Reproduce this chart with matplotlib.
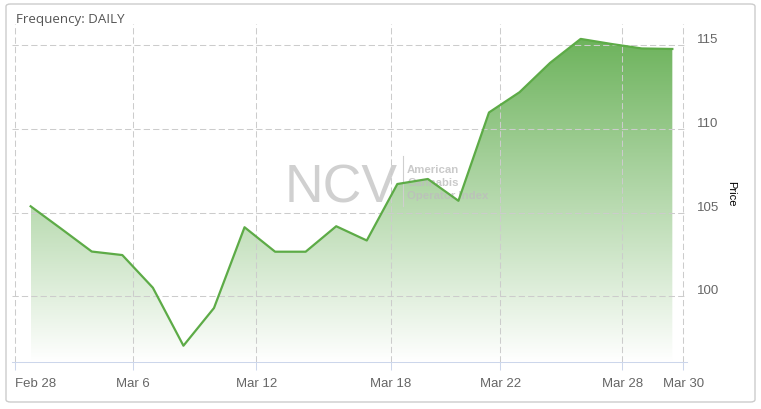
import numpy as np
import matplotlib
matplotlib.use('Agg')
import matplotlib.pyplot as plt
from matplotlib.patches import FancyBboxPatch
from matplotlib.colors import LinearSegmentedColormap
import matplotlib.transforms as mtransforms

# daily index values, one per trading day (evenly spaced on an ordinal axis)
price = [105.37, 104.03, 102.67, 102.46, 100.51, 97.05, 99.30, 104.12, 102.66,
         102.66, 104.18, 103.33, 106.70, 107.00, 105.70, 110.97, 112.18, 113.93,
         115.36, 115.06, 114.79, 114.76]

# date labels and where they sit on the ordinal axis
tick_labels = ['Feb 28', 'Mar 6', 'Mar 12', 'Mar 18', 'Mar 22', 'Mar 28', 'Mar 30']
tick_pos = [-0.50, 3.36, 7.38, 11.78, 15.37, 19.36, 21.36]

y_ticks = [100, 105, 110, 115]

W, H = 761, 410
fig = plt.figure(figsize=(W / 100, H / 100), dpi=100)
ax = fig.add_axes([11.7 / W, 1 - 363.3 / H, (687 - 11.7) / W, (363.3 - 25) / H])

x = np.arange(len(price))
ymin, ymax = 96.06, 116.25
ax.set_xlim(-0.62, 21.48)
ax.set_ylim(ymin, ymax)

# area with vertical gradient
poly = ax.fill_between(x, price, ymin, facecolor='none', edgecolor='none', zorder=1)
cmap = LinearSegmentedColormap.from_list('grn', ['#ffffff', '#6db35c'])
grad = np.linspace(0, 1, 256).reshape(-1, 1)
im = ax.imshow(grad, aspect='auto', cmap=cmap, origin='lower',
               extent=[x[0], x[-1], ymin, max(price)], zorder=1)
im.set_clip_path(poly.get_paths()[0], transform=ax.transData)
ax.plot(x, price, color='#5dab47', lw=1.6, zorder=3, solid_joinstyle='round')

# grid
ax.set_axisbelow(False)
ax.grid(True, color='#cccccc', lw=0.75, linestyle=(0, (6, 3)))
for a in [ax.xaxis, ax.yaxis]:
    for gl in a.get_gridlines():
        gl.set_zorder(2)

for s in ['top', 'left', 'right']:
    ax.spines[s].set_visible(False)
ax.spines['bottom'].set_color('#ccd6eb')
ax.spines['bottom'].set_linewidth(0.75)

ax.set_xticks(tick_pos, tick_labels)
ax.tick_params(axis='x', length=5.5, width=0.75, color='#ccd6eb', pad=5,
               labelsize=9.5, labelcolor='#666666')
ax.get_xticklabels()[0].set_ha('left')

ax.yaxis.tick_right()
ax.set_yticks(y_ticks)
ax.tick_params(axis='y', length=0, pad=7.5, labelsize=9.5, labelcolor='#666666')
shift = mtransforms.ScaledTranslation(0, 7.5 / 100, fig.dpi_scale_trans)
for lab in ax.get_yticklabels():
    lab.set_transform(lab.get_transform() + shift)
for lab in ax.get_xticklabels() + ax.get_yticklabels():
    lab.set_fontfamily('Liberation Sans')

ax.yaxis.set_label_position('right')
ax.set_ylabel('Price', rotation=-90, fontsize=8, color='black', family='Liberation Sans')
ax.yaxis.set_label_coords((731 - 11.7) / (687 - 11.7), 0.5)
ax.yaxis.label.set_va('center')
ax.yaxis.label.set_ha('center')

# watermark
px = fig.transFigure
def fp(xp, yp):
    return xp / W, 1 - yp / H

ax.text(*fp(285, 203), 'NCV', transform=px, fontsize=38.5, color='#c8c8c8',
        alpha=0.85, family='Liberation Sans', va='baseline', ha='left', zorder=1.5)
ax.plot([403 / W, 403 / W], [1 - 157 / H, 1 - 207 / H], transform=px,
        color='#cfcfcf', lw=0.8, zorder=1.5, clip_on=False)
for i, t in enumerate(['American', 'Cannabis', 'Operator Index']):
    ax.text(*fp(407, 170 + i * 12.8), t, transform=px, fontsize=8.2,
            fontweight='bold', color='#bdbdbd', alpha=0.8, family='Liberation Sans',
            va='center', ha='left', zorder=1.5)

# title and frame
fig.text(*fp(16, 20), 'Frequency: DAILY', fontsize=9.6, color='#555555',
         family='Open Sans', va='center', ha='left')
frame = FancyBboxPatch((6 / W, 1 - 403 / H), 749 / W, 398 / H,
                       boxstyle='round,pad=0,rounding_size=0.006',
                       transform=fig.transFigure, facecolor='none',
                       edgecolor='#cccccc', lw=1)
fig.patches.append(frame)

fig.savefig('out.png', dpi=100)
